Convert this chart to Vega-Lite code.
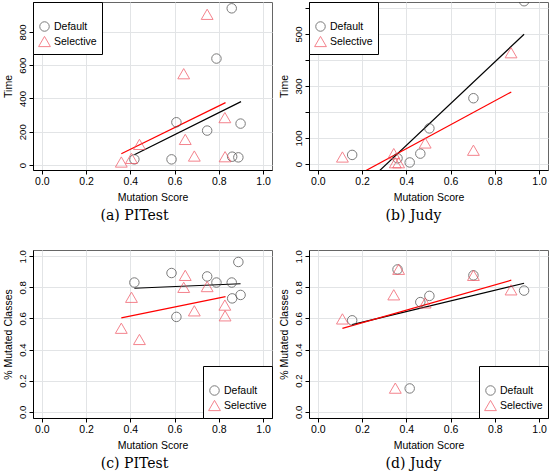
{
  "$schema": "https://vega.github.io/schema/vega-lite/v6.json",
  "background": "white",
  "padding": {"left": 2, "top": 1, "right": 0, "bottom": 0},
  "config": {
    "font": "Liberation Sans",
    "view": {"stroke": "#666666", "strokeWidth": 1},
    "axis": {
      "domainColor": "black", "tickColor": "black", "tickSize": 4,
      "gridColor": "#e2e4e6", "labelColor": "black", "titleColor": "black",
      "labelFont": "Liberation Sans", "titleFont": "Liberation Sans",
      "titleFontWeight": "normal", "labelFontSize": 10.5, "titleFontSize": 10.5,
      "labelPadding": 2, "titlePadding": 6, "labelOverlap": false, "labelFlush": false, "labelBound": false
    },
    "axisY": {"labelFontSize": 9.6, "titlePadding": 4, "labelOverlap": false, "labelPadding": 7},
    "legend": {
      "fillColor": "white", "strokeColor": "black", "padding": 5, "offset": 0,
      "titleFontSize": 10, "titlePadding": 4, "labelFont": "Liberation Sans",
      "labelFontSize": 10.5, "labelColor": "black", "rowPadding": 0,
      "labelOffset": 3, "symbolStrokeWidth": 1
    },
    "title": {
      "orient": "bottom", "font": "DejaVu Serif", "fontSize": 14,
      "fontWeight": "normal", "color": "black", "offset": 6, "anchor": "middle"
    }
  },
  "datasets": {
    "points": [
      {"tool": "PITest", "method": "Default", "score": 0.888, "time": 46, "pct": 0.963},
      {"tool": "PITest", "method": "Default", "score": 0.586, "time": 34, "pct": 0.892},
      {"tool": "PITest", "method": "Default", "score": 0.747, "time": 207, "pct": 0.870},
      {"tool": "PITest", "method": "Default", "score": 0.418, "time": 34, "pct": 0.831},
      {"tool": "PITest", "method": "Default", "score": 0.789, "time": 640, "pct": 0.831},
      {"tool": "PITest", "method": "Default", "score": 0.858, "time": 942, "pct": 0.831},
      {"tool": "PITest", "method": "Default", "score": 0.898, "time": 249, "pct": 0.751},
      {"tool": "PITest", "method": "Default", "score": 0.860, "time": 50, "pct": 0.729},
      {"tool": "PITest", "method": "Default", "score": 0.608, "time": 257, "pct": 0.610},
      {"tool": "PITest", "method": "Selective", "score": 0.359, "time": 18, "pct": 0.537},
      {"tool": "PITest", "method": "Selective", "score": 0.405, "time": 40, "pct": 0.736},
      {"tool": "PITest", "method": "Selective", "score": 0.441, "time": 124, "pct": 0.465},
      {"tool": "PITest", "method": "Selective", "score": 0.641, "time": 549, "pct": 0.800},
      {"tool": "PITest", "method": "Selective", "score": 0.648, "time": 154, "pct": 0.877},
      {"tool": "PITest", "method": "Selective", "score": 0.689, "time": 54, "pct": 0.649},
      {"tool": "PITest", "method": "Selective", "score": 0.747, "time": 906, "pct": 0.805},
      {"tool": "PITest", "method": "Selective", "score": 0.827, "time": 285, "pct": 0.686},
      {"tool": "PITest", "method": "Selective", "score": 0.828, "time": 50, "pct": 0.617},
      {"tool": "Judy", "method": "Default", "score": 0.932, "time": 626, "pct": 0.779},
      {"tool": "Judy", "method": "Default", "score": 0.703, "time": 253, "pct": 0.877},
      {"tool": "Judy", "method": "Default", "score": 0.504, "time": 137, "pct": 0.745},
      {"tool": "Judy", "method": "Default", "score": 0.463, "time": 40, "pct": 0.705},
      {"tool": "Judy", "method": "Default", "score": 0.415, "time": 6, "pct": 0.150},
      {"tool": "Judy", "method": "Default", "score": 0.360, "time": 22, "pct": 0.915},
      {"tool": "Judy", "method": "Default", "score": 0.155, "time": 35, "pct": 0.588},
      {"tool": "Judy", "method": "Selective", "score": 0.873, "time": 428, "pct": 0.784},
      {"tool": "Judy", "method": "Selective", "score": 0.485, "time": 81, "pct": 0.700},
      {"tool": "Judy", "method": "Selective", "score": 0.703, "time": 53, "pct": 0.877},
      {"tool": "Judy", "method": "Selective", "score": 0.343, "time": 40, "pct": 0.752},
      {"tool": "Judy", "method": "Selective", "score": 0.111, "time": 27, "pct": 0.597},
      {"tool": "Judy", "method": "Selective", "score": 0.350, "time": 5, "pct": 0.152},
      {"tool": "Judy", "method": "Selective", "score": 0.365, "time": 5, "pct": 0.916}
    ],
    "lines": [
      {"tool": "PITest", "method": "Default", "score": 0.418, "time": 62},
      {"tool": "PITest", "method": "Default", "score": 0.900, "time": 381},
      {"tool": "PITest", "method": "Selective", "score": 0.359, "time": 68},
      {"tool": "PITest", "method": "Selective", "score": 0.830, "time": 375},
      {"tool": "Judy", "method": "Default", "score": 0.155, "time": -125},
      {"tool": "Judy", "method": "Default", "score": 0.932, "time": 499},
      {"tool": "Judy", "method": "Selective", "score": 0.111, "time": -74},
      {"tool": "Judy", "method": "Selective", "score": 0.874, "time": 277},
      {"tool": "PITest", "method": "Default", "score": 0.418, "pct": 0.794},
      {"tool": "PITest", "method": "Default", "score": 0.898, "pct": 0.823},
      {"tool": "PITest", "method": "Selective", "score": 0.359, "pct": 0.604},
      {"tool": "PITest", "method": "Selective", "score": 0.830, "pct": 0.740},
      {"tool": "Judy", "method": "Default", "score": 0.155, "pct": 0.560},
      {"tool": "Judy", "method": "Default", "score": 0.932, "pct": 0.826},
      {"tool": "Judy", "method": "Selective", "score": 0.111, "pct": 0.536},
      {"tool": "Judy", "method": "Selective", "score": 0.874, "pct": 0.846}
    ]
  },
  "columns": 2,
  "bounds": "flush",
  "spacing": {"row": 80, "column": 37},
  "resolve": {
    "scale": {"x": "independent", "y": "independent", "color": "independent", "shape": "independent", "size": "independent"},
    "legend": {"color": "independent", "shape": "independent", "size": "independent"}
  },
  "concat": [
    {
      "width": 239, "height": 168,
      "title": {"text": "(a) PITest", "dx": -18},
      "encoding": {
        "x": {"field": "score", "type": "quantitative", "title": "Mutation Score",
              "scale": {"domain": [-0.04, 1.04], "nice": false, "zero": false},
              "axis": {"values": [0, 0.2, 0.4, 0.6, 0.8, 1.0], "format": ".1f"}},
        "y": {"field": "time", "type": "quantitative", "title": "Time",
              "scale": {"domain": [-30, 980], "nice": false, "zero": false},
              "axis": {"values": [0, 200, 400, 600, 800], "labelOverlap": false, "labelAngle": -90, "labelAlign": "center", "labelBaseline": "middle", "labelExpr": "datum.value == 600 ? '600' : datum.label"}}
      },
      "layer": [
        {"data": {"name": "lines"},
         "transform": [{"filter": "datum.tool == 'PITest' && isValid(datum.time) && datum.method == 'Default'"}],
         "mark": {"type": "line", "color": "black", "strokeWidth": 1.2, "clip": true}},
        {"data": {"name": "lines"},
         "transform": [{"filter": "datum.tool == 'PITest' && isValid(datum.time) && datum.method == 'Selective'"}],
         "mark": {"type": "line", "color": "#ff0000", "strokeWidth": 1.2, "clip": true}},
        {"data": {"name": "points"},
         "transform": [{"filter": "datum.tool == 'PITest'"}],
         "mark": {"type": "point", "filled": false, "strokeWidth": 1, "clip": true},
         "encoding": {
           "color": {"field": "method", "type": "nominal", "scale": {"domain": ["Default", "Selective"], "range": ["#444444", "#f0505e"]}, "legend": {"orient": "top-left", "title": " "}},
           "shape": {"field": "method", "type": "nominal", "scale": {"domain": ["Default", "Selective"], "range": ["circle", "triangle-up"]}, "legend": {"orient": "top-left", "title": " "}},
           "size": {"field": "method", "type": "nominal", "scale": {"domain": ["Default", "Selective"], "range": [90, 140]}, "legend": {"orient": "top-left", "title": " "}}
         }}
      ]
    },
    {
      "width": 239, "height": 168,
      "title": {"text": "(b) Judy", "dx": -15},
      "encoding": {
        "x": {"field": "score", "type": "quantitative", "title": "Mutation Score",
              "scale": {"domain": [-0.04, 1.04], "nice": false, "zero": false},
              "axis": {"values": [0, 0.2, 0.4, 0.6, 0.8, 1.0], "format": ".1f"}},
        "y": {"field": "time", "type": "quantitative", "title": "Time",
              "scale": {"domain": [-23, 623], "nice": false, "zero": false},
              "axis": {"values": [0, 100, 200, 300, 400, 500, 600], "labelOverlap": false, "labelAngle": -90, "labelAlign": "center", "labelBaseline": "middle", "labelExpr": "(datum.value == 200 || datum.value == 400 || datum.value == 600) ? '' : datum.label"}}
      },
      "layer": [
        {"data": {"name": "lines"},
         "transform": [{"filter": "datum.tool == 'Judy' && isValid(datum.time) && datum.method == 'Default'"}],
         "mark": {"type": "line", "color": "black", "strokeWidth": 1.2, "clip": true}},
        {"data": {"name": "lines"},
         "transform": [{"filter": "datum.tool == 'Judy' && isValid(datum.time) && datum.method == 'Selective'"}],
         "mark": {"type": "line", "color": "#ff0000", "strokeWidth": 1.2, "clip": true}},
        {"data": {"name": "points"},
         "transform": [{"filter": "datum.tool == 'Judy'"}],
         "mark": {"type": "point", "filled": false, "strokeWidth": 1, "clip": true},
         "encoding": {
           "color": {"field": "method", "type": "nominal", "scale": {"domain": ["Default", "Selective"], "range": ["#444444", "#f0505e"]}, "legend": {"orient": "top-left", "title": " "}},
           "shape": {"field": "method", "type": "nominal", "scale": {"domain": ["Default", "Selective"], "range": ["circle", "triangle-up"]}, "legend": {"orient": "top-left", "title": " "}},
           "size": {"field": "method", "type": "nominal", "scale": {"domain": ["Default", "Selective"], "range": [90, 140]}, "legend": {"orient": "top-left", "title": " "}}
         }}
      ]
    },
    {
      "width": 239, "height": 168,
      "title": {"text": "(c) PITest", "dx": -18},
      "encoding": {
        "x": {"field": "score", "type": "quantitative", "title": "Mutation Score",
              "scale": {"domain": [-0.04, 1.04], "nice": false, "zero": false},
              "axis": {"values": [0, 0.2, 0.4, 0.6, 0.8, 1.0], "format": ".1f"}},
        "y": {"field": "pct", "type": "quantitative", "title": "% Mutated Classes",
              "scale": {"domain": [-0.04, 1.04], "nice": false, "zero": false},
              "axis": {"values": [0, 0.2, 0.4, 0.6, 0.8, 1.0], "format": ".1f", "labelOverlap": false, "labelAngle": -90, "labelAlign": "center", "labelBaseline": "middle"}}
      },
      "layer": [
        {"data": {"name": "lines"},
         "transform": [{"filter": "datum.tool == 'PITest' && isValid(datum.pct) && datum.method == 'Default'"}],
         "mark": {"type": "line", "color": "black", "strokeWidth": 1.2, "clip": true}},
        {"data": {"name": "lines"},
         "transform": [{"filter": "datum.tool == 'PITest' && isValid(datum.pct) && datum.method == 'Selective'"}],
         "mark": {"type": "line", "color": "#ff0000", "strokeWidth": 1.2, "clip": true}},
        {"data": {"name": "points"},
         "transform": [{"filter": "datum.tool == 'PITest'"}],
         "mark": {"type": "point", "filled": false, "strokeWidth": 1, "clip": true},
         "encoding": {
           "color": {"field": "method", "type": "nominal", "scale": {"domain": ["Default", "Selective"], "range": ["#444444", "#f0505e"]}, "legend": {"orient": "bottom-right", "title": " "}},
           "shape": {"field": "method", "type": "nominal", "scale": {"domain": ["Default", "Selective"], "range": ["circle", "triangle-up"]}, "legend": {"orient": "bottom-right", "title": " "}},
           "size": {"field": "method", "type": "nominal", "scale": {"domain": ["Default", "Selective"], "range": [90, 140]}, "legend": {"orient": "bottom-right", "title": " "}}
         }}
      ]
    },
    {
      "width": 239, "height": 168,
      "title": {"text": "(d) Judy", "dx": -15},
      "encoding": {
        "x": {"field": "score", "type": "quantitative", "title": "Mutation Score",
              "scale": {"domain": [-0.04, 1.04], "nice": false, "zero": false},
              "axis": {"values": [0, 0.2, 0.4, 0.6, 0.8, 1.0], "format": ".1f"}},
        "y": {"field": "pct", "type": "quantitative", "title": "% Mutated Classes",
              "scale": {"domain": [-0.04, 1.04], "nice": false, "zero": false},
              "axis": {"values": [0, 0.2, 0.4, 0.6, 0.8, 1.0], "format": ".1f", "labelOverlap": false, "labelAngle": -90, "labelAlign": "center", "labelBaseline": "middle"}}
      },
      "layer": [
        {"data": {"name": "lines"},
         "transform": [{"filter": "datum.tool == 'Judy' && isValid(datum.pct) && datum.method == 'Default'"}],
         "mark": {"type": "line", "color": "black", "strokeWidth": 1.2, "clip": true}},
        {"data": {"name": "lines"},
         "transform": [{"filter": "datum.tool == 'Judy' && isValid(datum.pct) && datum.method == 'Selective'"}],
         "mark": {"type": "line", "color": "#ff0000", "strokeWidth": 1.2, "clip": true}},
        {"data": {"name": "points"},
         "transform": [{"filter": "datum.tool == 'Judy'"}],
         "mark": {"type": "point", "filled": false, "strokeWidth": 1, "clip": true},
         "encoding": {
           "color": {"field": "method", "type": "nominal", "scale": {"domain": ["Default", "Selective"], "range": ["#444444", "#f0505e"]}, "legend": {"orient": "bottom-right", "title": " "}},
           "shape": {"field": "method", "type": "nominal", "scale": {"domain": ["Default", "Selective"], "range": ["circle", "triangle-up"]}, "legend": {"orient": "bottom-right", "title": " "}},
           "size": {"field": "method", "type": "nominal", "scale": {"domain": ["Default", "Selective"], "range": [90, 140]}, "legend": {"orient": "bottom-right", "title": " "}}
         }}
      ]
    }
  ]
}
